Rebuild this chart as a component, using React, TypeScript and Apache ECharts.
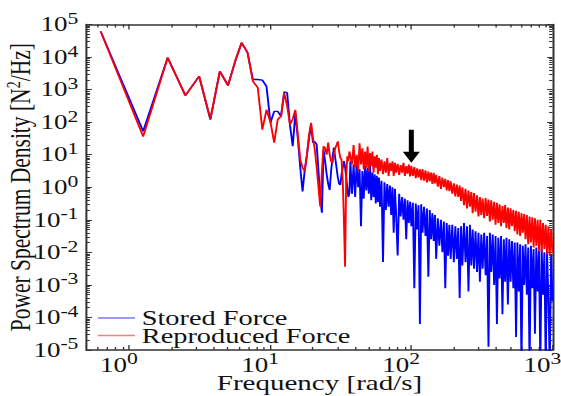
import React, { useEffect, useRef } from "react";
import * as echarts from "echarts";

// ---------- data (log10 of PSD values) ----------
const lowFreq = [0.63, 1.26, 1.88, 2.51, 3.14, 3.77, 4.4, 5.03, 5.65, 6.28, 6.91];
const storedLowLog = [4.79, 1.72, 3.98, 2.82, 3.41, 2.08, 3.56, 3.13, 3.87, 4.44, 4.14];
const reproLowLog = [4.79, 1.56, 3.98, 2.82, 3.41, 2.1, 3.56, 3.13, 3.87, 4.44, 4.14];

const midFreq = [
  7.54, 8.17, 8.8, 9.42, 10.05, 10.68, 11.31, 11.94, 12.57, 13.19, 13.82, 14.45, 15.08, 15.71,
  16.34, 16.96, 17.59, 18.22, 18.85, 19.48, 20.11, 20.73, 21.36, 21.99, 22.62, 23.25, 23.88,
  24.5, 25.13, 25.76, 26.39, 27.02, 27.65, 28.27, 28.9, 29.53, 30.16, 30.79, 31.42, 32.04,
  32.67, 33.3, 33.93, 34.56, 35.19, 35.81, 36.44,
];
const storedMidLog = [
  3.31, 3.31, 3.29, 3.1, 1.98, 2.33, 2.33, 2.18, 2.93, 2.9, 1.9, 1.26, 2.28, 1.5, 0.6, -0.13,
  0.54, 1.0, 1.5, 1.92, 1.37, 1.4, 1.31, 0.5, -0.3, -0.78, 1.15, 0.8, 0.4, 0.1, -0.08, 0.5, 0.9,
  1.22, 0.9, 0.6, 0.3, 0.1, 0.08, 0.4, 0.6, 0.8, 0.63, 0.3, 0.0, -0.3, -0.17,
];
const reproMidLog = [
  3.26, 3.06, 1.77, 2.38, 2.0, 1.37, 2.08, 2.18, 2.9, 2.5, 1.92, 2.1, 2.38, 1.6, 0.85, 0.6, 0.49,
  1.0, 1.6, 1.98, 1.5, 1.15, 0.6, 0.0, -0.59, 0.5, 1.26, 1.2, 1.0, 1.37, 1.0, 0.8, 0.75, 1.0, 1.2,
  1.3, 1.41, 1.1, 0.9, 0.85, 0.2, -1.0, -2.44, 0.3, 0.95, 0.8, 1.1,
];

const hiFreq = [
  37, 38, 39, 40, 41, 42, 43, 44, 45, 46, 47, 48, 49, 50, 51, 52, 53, 54, 55, 56, 57, 58, 59, 60,
  61.5, 63, 64.5, 66, 67.5, 69, 70.5, 72, 73.5, 75, 76.5, 78,
  80, 82, 84, 86, 88, 90, 92, 94, 96, 98, 100,
  102.5, 105, 107.5, 110, 112.5, 115, 117.5, 120,
  123, 126, 129, 132, 135, 138, 141, 144, 147, 150,
  154, 158, 162, 166, 170, 174, 178, 182, 186, 190,
  195, 200, 205, 210, 215, 220, 225, 230,
  236, 242, 248, 254, 260, 266, 272, 278,
  285, 292, 299, 306, 313, 320,
  328, 336, 344, 352, 360, 368,
  377, 386, 395, 404, 413,
  422, 432, 442, 452, 462, 472,
  483, 494, 505, 516,
  528, 540, 552, 564,
  577, 590, 603, 616,
  630, 644, 658,
  673, 688, 703,
  719, 735, 751,
  768, 785, 802,
  820, 838,
  857, 876, 895,
  915, 935,
  956, 978,
  1000,
];
const storedHiLog = [
  0.8, -0.2, 0.7, -0.3, 0.75, 0.0, 0.55, -1.2, 0.5, -0.35, 0.65, -0.1, 0.6, -0.2, 0.65, -0.4, 0.45, -0.3, 0.4, -0.5, 0.35, -0.45, 0.3, -0.6,
  0.2, -2.3, 0.15, -0.7, 0.1, -0.6, 0.05, -0.85, 0.0, -1.4, -0.05, -0.8,
  -2.1, -0.2, -0.9, -0.3, -1.0, -0.35, -1.6, -0.4, -1.1, -0.45, -1.2,
  -0.48, -3.1, -0.5, -1.3, -0.55, -4.2, -0.52, -1.4,
  -0.6, -1.5, -0.65, -2.75, -0.7, -1.6, -0.8, -1.65, -0.85, -2.2,
  -0.95, -1.8, -1.0, -2.0, -1.05, -3.1, -1.1, -2.1, -1.15, -2.2,
  -1.15, -2.3, -1.2, -2.2, -1.25, -3.4, -1.2, -2.4,
  -1.1, -2.3, -1.2, -3.2, -1.15, -2.4, -1.3, -2.5,
  -1.35, -2.6, -1.4, -2.9, -1.45, -2.5,
  -1.4, -2.7, -1.5, -4.9, -1.4, -2.6,
  -1.45, -3.0, -1.5, -4.2, -1.55,
  -2.8, -1.5, -3.9, -1.6, -2.9, -1.55,
  -3.6, -1.6, -2.9, -1.65,
  -3.1, -1.7, -4.6, -1.7,
  -3.2, -1.75, -5.5, -1.8,
  -3.0, -1.75, -3.3,
  -1.85, -5.5, -1.8,
  -3.1, -1.9, -4.5,
  -1.85, -3.2, -1.95,
  -5.5, -1.9,
  -3.3, -2.0, -5.5,
  -2.0, -3.4,
  -5.5, -2.05,
  -3.5,
];
const reproHiLog = [
  1.1, 0.7, 1.3, 0.6, 1.0, 0.5, 1.35, 0.7, 1.2, 0.55, 1.1, 0.6, 1.25, 0.5, 1.05, 0.65, 1.1, 0.45, 0.95, 0.6, 1.0, 0.4, 0.9, 0.5,
  0.85, 0.4, 0.8, 0.45, 0.9, 0.35, 0.75, 0.5, 0.8, 0.35, 0.75, 0.45,
  0.72, 0.38, 0.68, 0.45, 0.75, 0.35, 0.65, 0.42, 0.7, 0.33, 0.66,
  0.35, 0.62, 0.28, 0.58, 0.3, 0.55, 0.22, 0.56,
  0.2, 0.52, 0.15, 0.48, 0.18, 0.45, 0.1, 0.44, 0.12, 0.38,
  0.02, 0.34, -0.05, 0.3, 0.0, 0.26, -0.1, 0.22, -0.12, 0.18,
  -0.2, 0.12, -0.28, 0.08, -0.3, 0.05, -0.42, 0.0,
  -0.55, -0.05, -0.65, -0.1, -0.6, -0.15, -0.8, -0.18,
  -0.75, -0.25, -0.9, -0.3, -0.85, -0.35,
  -0.95, -0.33, -0.88, -0.38, -1.05, -0.4,
  -1.0, -0.45, -1.15, -0.48, -1.1,
  -0.52, -1.2, -0.58, -1.1, -0.55, -1.25,
  -0.62, -1.3, -0.65, -1.2,
  -0.7, -1.35, -0.72, -1.45,
  -0.75, -1.5, -0.8, -1.4,
  -0.82, -1.6, -0.85,
  -1.75, -0.9, -1.7,
  -0.92, -1.85, -0.95,
  -1.8, -1.0, -1.95,
  -1.0, -2.0,
  -1.1, -1.9, -1.15,
  -2.05, -1.2,
  -2.1, -1.3,
  -2.0,
];

// axis ticks
const xMajorTicks = [1, 10, 100, 1000];
const yMajorTicks = [1e-5, 1e-4, 1e-3, 1e-2, 1e-1, 1, 10, 100, 1e3, 1e4, 1e5];
const xDecades = [0.1, 1, 10, 100];
const yDecades = [1e-5, 1e-4, 1e-3, 1e-2, 1e-1, 1, 10, 100, 1e3, 1e4];
const minorMultipliers = [2, 3, 4, 5, 6, 7, 8, 9];

// annotation arrow (tip position, data units)
const arrowFreq = 100;
const arrowPsd = 5.7;

// ---------- layout ----------
const SX = 1.35; // reference figure is horizontally stretched
const W = 561 / SX;
const H = 396;
const FONT = "'Liberation Serif', 'Times New Roman', serif";
const INK = "#111";
const AXIS = "#333";

function minorList(decades: number[], lo: number, hi: number) {
  const out: number[] = [];
  decades.forEach((d) =>
    minorMultipliers.forEach((m) => {
      const v = +(m * d).toPrecision(6);
      if (v > lo && v < hi) out.push(v);
    })
  );
  return out;
}

function pairs(freqs: number[], logs: number[]) {
  return freqs.map((f, i) => [f, Math.pow(10, logs[i])]);
}

export default function App() {
  const ref = useRef<HTMLDivElement>(null);
  useEffect(() => {
    if (!ref.current) return;
    const chart = echarts.init(ref.current, null, { renderer: "svg", width: W, height: H });

    const storedData = pairs(
      [...lowFreq, ...midFreq, ...hiFreq],
      [...storedLowLog, ...storedMidLog, ...storedHiLog]
    );
    const reproData = pairs(
      [...lowFreq, ...midFreq, ...hiFreq],
      [...reproLowLog, ...reproMidLog, ...reproHiLog]
    );
    const xMinor = minorList(xDecades, 0.5, 1000);
    const yMinor = minorList(yDecades, 1e-5, 1e5);

    const powLabel = (v: number) => {
      const e = Math.round(Math.log10(v));
      return `{b|10}{s|${e}}`;
    };
    const rich = {
      b: { fontFamily: FONT, fontSize: 20, lineHeight: 28, color: INK },
      s: { fontFamily: FONT, fontSize: 16, lineHeight: 10, verticalAlign: "top", color: INK },
    };
    const lineStyle = { color: AXIS, width: 1 };

    const xBase: any = {
      type: "log",
      logBase: 10,
      min: 0.5,
      max: 1000,
      splitLine: { show: false },
      axisLine: { show: false },
      axisTick: { show: false },
      axisLabel: { show: false },
    };
    const yBase: any = {
      type: "log",
      logBase: 10,
      min: 1e-5,
      max: 1e5,
      splitLine: { show: false },
      axisLine: { show: false },
      axisTick: { show: false },
      axisLabel: { show: false },
    };

    const option: any = {
      animation: false,
      backgroundColor: "#ffffff",
      grid: {
        left: 86.5 / SX,
        right: 8.5 / SX,
        top: 24.5,
        bottom: 46,
        containLabel: false,
        outerBoundsMode: "none",
      },
      xAxis: [
        {
          ...xBase,
          position: "bottom",
          axisLine: { show: true, lineStyle: { color: AXIS, width: 1.5 } },
          axisTick: { show: true, inside: true, length: 5, customValues: xMajorTicks, lineStyle },
          axisLabel: {
            show: true,
            customValues: xMajorTicks,
            formatter: powLabel,
            margin: 1,
            padding: [0, 15, 0, 0],
            rich,
          },
          name: "Frequency [rad/s]",
          nameLocation: "middle",
          nameGap: 25,
          nameMoveOverlap: false,
          nameTextStyle: { fontFamily: FONT, fontSize: 21.5, lineHeight: 16, color: INK },
        },
        {
          ...xBase,
          position: "bottom",
          axisTick: { show: true, inside: true, length: 3, customValues: xMinor, lineStyle },
        },
        {
          ...xBase,
          position: "top",
          axisLine: { show: true, lineStyle: { color: AXIS, width: 1.5 } },
          axisTick: { show: true, inside: true, length: 5, customValues: xMajorTicks, lineStyle },
        },
        {
          ...xBase,
          position: "top",
          axisTick: { show: true, inside: true, length: 3, customValues: xMinor, lineStyle },
        },
      ],
      yAxis: [
        {
          ...yBase,
          position: "left",
          axisLine: { show: true, lineStyle: { color: AXIS, width: 1.5 } },
          axisTick: { show: true, inside: true, length: 4, customValues: yMajorTicks, lineStyle },
          axisLabel: {
            show: true,
            customValues: yMajorTicks,
            formatter: powLabel,
            margin: 6,
            rich,
          },
          name: "Power Spectrum Density [N{s|2}/Hz]",
          nameLocation: "middle",
          nameGap: 37,
          nameMoveOverlap: false,
          nameTextStyle: {
            fontFamily: FONT,
            fontSize: 21.5,
            lineHeight: 24,
            color: INK,
            rich: {
              s: { fontFamily: FONT, fontSize: 14, lineHeight: 12, verticalAlign: "top", color: INK },
            },
          },
        },
        {
          ...yBase,
          position: "left",
          axisTick: { show: true, inside: true, length: 2.5, customValues: yMinor, lineStyle },
        },
        {
          ...yBase,
          position: "right",
          axisLine: { show: true, lineStyle: { color: AXIS, width: 1.5 } },
          axisTick: { show: true, inside: true, length: 4, customValues: yMajorTicks, lineStyle },
        },
        {
          ...yBase,
          position: "right",
          axisTick: { show: true, inside: true, length: 2.5, customValues: yMinor, lineStyle },
        },
      ],
      legend: {
        orient: "vertical",
        left: 98 / SX,
        top: 307.5,
        padding: 0,
        itemGap: -3.5,
        itemWidth: 37 / SX,
        itemHeight: 1.5,
        icon: "rect",
        selectedMode: false,
        textStyle: { fontFamily: FONT, fontSize: 21, lineHeight: 16.7, color: INK },
        data: [
          { name: "Stored Force", itemStyle: { color: "#7a7aff" } },
          { name: "Reproduced Force", itemStyle: { color: "#ff7a7a" } },
        ],
      },
      series: [
        {
          name: "Stored Force",
          type: "line",
          data: storedData,
          symbol: "none",
          showSymbol: false,
          lineStyle: { color: "#0000ff", width: 1.4 },
          itemStyle: { color: "#0000ff" },
          clip: true,
          z: 2,
        },
        {
          name: "Reproduced Force",
          type: "line",
          data: reproData,
          symbol: "none",
          showSymbol: false,
          lineStyle: { color: "#ff0000", width: 1.4 },
          itemStyle: { color: "#ff0000" },
          clip: true,
          z: 3,
          markPoint: {
            silent: true,
            symbol: "path://M6,0L11,0L11,22L17,22L8.5,33L0,22L6,22Z",
            symbolSize: [17 / SX, 33],
            symbolKeepAspect: false,
            symbolOffset: [0, "-50%"],
            itemStyle: { color: "#000000" },
            label: { show: false },
            data: [{ coord: [arrowFreq, arrowPsd] }],
          },
        },
      ],
    };
    chart.setOption(option);
    return () => chart.dispose();
  }, []);

  return (
    <div
      ref={ref}
      style={{
        position: "absolute",
        left: 0,
        top: 0,
        width: W,
        height: H,
        transform: `scaleX(${SX})`,
        transformOrigin: "0 0",
        background: "#ffffff",
      }}
    />
  );
}
